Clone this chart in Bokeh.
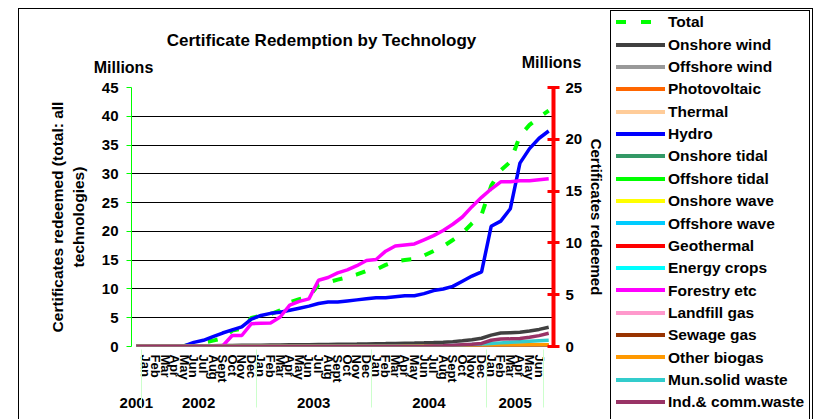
from bokeh.plotting import figure
from bokeh.layouts import row
from bokeh.models import (FactorRange, Range1d, LinearAxis, Label, SingleIntervalTicker, Div)
from bokeh.embed import file_html
from bokeh.resources import INLINE
import html

FONT = "Liberation Sans"

# ---------------- data ----------------
months = ["Jan", "Feb", "Mar", "Apr", "May", "Jun", "Jul", "Aug", "Sept", "Oct", "Nov", "Dec"]
years = ["2001", "2002", "2003", "2004", "2005", " "]
factors = ([("2001", " ")]
           + [(y, m) for y in ["2002", "2003", "2004"] for m in months]
           + [("2005", m) for m in months[:6]]
           + [(" ", " ")])

total = [0, 0.01, 0.02, 0.03, 0.06, 0.1, 0.46, 0.67, 1.03, 1.44, 2.76, 3.07, 4.97,
         5.38, 5.61, 6.3, 7.66, 8.22, 8.68, 10.74, 11.15, 11.61, 12.01, 12.52, 13.15,
         13.37, 14.18, 14.8, 15.04, 15.2, 15.8, 16.6, 17.4, 18.5, 19.7, 21.4, 22.9,
         27.9, 30.6, 32.1, 36.6, 38.5, 39.8, 41.0]

zeros = [0] * 44

onshore_wind = [0, 0.01, 0.02, 0.03, 0.04, 0.05, 0.06, 0.07, 0.08, 0.09, 0.1, 0.11, 0.12,
                0.13, 0.14, 0.15, 0.16, 0.17, 0.18, 0.19, 0.2, 0.21, 0.22, 0.23, 0.25,
                0.27, 0.28, 0.3, 0.32, 0.33, 0.35, 0.38, 0.42, 0.47, 0.55, 0.65, 0.8,
                1.1, 1.3, 1.33, 1.38, 1.5, 1.65, 1.85]
offshore_wind = [0] * 25 + [0, 0, 0, 0, 0, 0, 0.01, 0.02, 0.03, 0.04, 0.05, 0.06,
                            0.07, 0.08, 0.1, 0.12, 0.14, 0.16, 0.18]
photovoltaic = list(zeros)
thermal = list(zeros)
hydro = [0, 0, 0, 0, 0.02, 0.05, 0.4, 0.6, 0.95, 1.3, 1.6, 1.9, 2.65,
         3.0, 3.2, 3.3, 3.5, 3.7, 3.9, 4.15, 4.3, 4.3, 4.4, 4.5, 4.6,
         4.7, 4.7, 4.8, 4.9, 4.9, 5.1, 5.4, 5.55, 5.8, 6.3, 6.8, 7.2,
         11.6, 12.1, 13.3, 17.7, 19.1, 20.1, 20.8]
onshore_tidal = list(zeros)
offshore_tidal = list(zeros)
onshore_wave = list(zeros)
offshore_wave = list(zeros)
geothermal = list(zeros)
energy_crops = list(zeros)
forestry = [0, 0, 0, 0, 0, 0, 0, 0, 0, 0.05, 1.06, 1.06, 2.2,
            2.25, 2.27, 2.85, 4.0, 4.35, 4.6, 6.4, 6.66, 7.1, 7.4, 7.8, 8.3,
            8.4, 9.2, 9.7, 9.8, 9.9, 10.3, 10.7, 11.2, 11.8, 12.5, 13.5, 14.4,
            15.2, 15.9, 15.9, 16.0, 16.0, 16.1, 16.2]
landfill_gas = list(zeros)
sewage_gas = list(zeros)
other_biogas = [0] * 28 + [0.02, 0.03, 0.04, 0.05, 0.06, 0.07, 0.08, 0.1, 0.12,
                           0.13, 0.14, 0.15, 0.15, 0.16, 0.17, 0.18]
mun_solid_waste = [0] * 31 + [0.02, 0.05, 0.1, 0.15, 0.2, 0.25,
                              0.3, 0.35, 0.4, 0.45, 0.5, 0.55, 0.6]
ind_comm_waste = [0] * 30 + [0.02, 0.05, 0.08, 0.12, 0.17, 0.22, 0.3,
                             0.6, 0.72, 0.74, 0.78, 0.9, 1.05, 1.28]

series = [
    ("Onshore wind", onshore_wind, "#404040"),
    ("Offshore wind", offshore_wind, "#999999"),
    ("Photovoltaic", photovoltaic, "#FF6600"),
    ("Thermal", thermal, "#FFCC99"),
    ("Hydro", hydro, "#0000FF"),
    ("Onshore tidal", onshore_tidal, "#339966"),
    ("Offshore tidal", offshore_tidal, "#00FF00"),
    ("Onshore wave", onshore_wave, "#FFFF00"),
    ("Offshore wave", offshore_wave, "#00CCFF"),
    ("Geothermal", geothermal, "#FF0000"),
    ("Energy crops", energy_crops, "#00FFFF"),
    ("Forestry etc", forestry, "#FF00FF"),
    ("Landfill gas", landfill_gas, "#FF99CC"),
    ("Sewage gas", sewage_gas, "#993300"),
    ("Other biogas", other_biogas, "#FF9900"),
    ("Mun.solid waste", mun_solid_waste, "#33CCCC"),
    ("Ind.& comm.waste", ind_comm_waste, "#993366"),
]

TOTAL_COLOR = "#00FF00"
TOTAL_DASH = "10 14"

# ---------------- main figure ----------------
p = figure(
    x_range=FactorRange(*factors, factor_padding=0, group_padding=0, subgroup_padding=0,
                        range_padding=0),
    y_range=Range1d(0, 45),
    frame_width=422, frame_height=259,
    min_border_left=131, min_border_top=87, min_border_bottom=73, min_border_right=57,
    output_backend="svg", toolbar_location=None,
)
p.extra_y_ranges = {"right": Range1d(0, 25)}
p.outline_line_color = None
p.background_fill_color = "white"
p.border_fill_color = "white"

# left axis
yl = p.yaxis[0]
tick5 = SingleIntervalTicker(interval=5)
yl.ticker = tick5
p.ygrid.ticker = tick5
p.ygrid.grid_line_color = "black"
p.ygrid.grid_line_width = 1
p.xgrid.visible = False
yl.axis_line_color = "#00FF00"
yl.axis_line_width = 1
yl.major_tick_line_color = "#00FF00"
yl.major_tick_out = 5
yl.major_tick_in = 0
yl.minor_tick_line_color = None
yl.major_label_text_font = FONT
yl.major_label_text_font_style = "bold"
yl.major_label_text_font_size = "15px"
yl.major_label_text_color = "black"
yl.major_label_standoff = 8
yl.axis_label = "Certificates redeemed (total: all\ntechnologies)"
yl.axis_label_text_font = FONT
yl.axis_label_text_font_style = "bold"
yl.axis_label_text_font_size = "15.5px"
yl.axis_label_text_color = "black"
yl.axis_label_standoff = 12

# right axis
yr = LinearAxis(y_range_name="right", ticker=SingleIntervalTicker(interval=5))
yr.axis_line_color = "#FF0000"
yr.axis_line_width = 4
yr.major_tick_line_color = "#FF0000"
yr.major_tick_line_width = 3
yr.major_tick_out = 6
yr.major_tick_in = 6
yr.minor_tick_line_color = None
yr.major_label_text_font = FONT
yr.major_label_text_font_style = "bold"
yr.major_label_text_font_size = "15px"
yr.major_label_text_color = "black"
yr.major_label_standoff = 6
yr.axis_label = "Certificates redeemed"
yr.axis_label_text_font = FONT
yr.axis_label_text_font_style = "bold"
yr.axis_label_text_font_size = "15px"
yr.axis_label_text_color = "black"
yr.axis_label_standoff = 3
p.add_layout(yr, "right")

# x axis
xa = p.xaxis[0]
xa.axis_line_color = None
xa.major_tick_line_color = None
xa.major_tick_out = 0
xa.major_label_orientation = "vertical"
xa.major_label_text_font = FONT
xa.major_label_text_font_style = "bold"
xa.major_label_text_font_size = "13px"
xa.major_label_text_color = "black"
xa.major_label_standoff = 8
xa.group_text_font = FONT
xa.group_text_font_style = "bold"
xa.group_text_font_size = "15px"
xa.group_text_color = "black"
xa.separator_line_color = "#CCFFCC"
xa.separator_line_width = 1

# lines
p.line(factors, total, line_color=TOTAL_COLOR, line_width=4, line_dash=TOTAL_DASH)
for name, vals, col in series:
    p.line(factors, vals, line_color=col, line_width=3.5, y_range_name="right")

# texts above the frame (each in its own stacked panel)
def lab(text, x, y, size):
    p.add_layout(Label(x=x, y=y, x_units="screen", y_units="screen", text=text,
                       text_font=FONT, text_font_style="bold", text_font_size=size,
                       text_align="center", text_baseline="middle", text_color="black"),
                 "above")

lab("Millions", -8, 20, "16px")
lab("Millions", 420, 8, "16px")
lab("Certificate Redemption by Technology", 190, 13, "17px")

# ---------------- legend (HTML box beside the plot) ----------------
def legend_row(label, swatch_css):
    return ('<div style="display:flex;align-items:center;height:22.35px;white-space:nowrap;">'
            f'<span style="display:inline-block;flex:none;width:49px;height:4px;margin-left:5px;'
            f'margin-right:3px;{swatch_css}"></span>{html.escape(label)}</div>')

rows_html = [legend_row("Total",
                        f"background:repeating-linear-gradient(to right,{TOTAL_COLOR} 0px,"
                        f"{TOTAL_COLOR} 10px,transparent 10px,transparent 25px);")]
for name, vals, col in series:
    rows_html.append(legend_row(name, f"background:{col};"))

legend_html = (
    '<div style="position:relative;width:204px;height:419px;margin:0;padding:0;">'
    '<div style="position:absolute;left:-592px;top:8px;width:795px;height:420px;'
    'border-left:1px solid black;border-top:1px solid black;border-right:1px solid black;'
    'pointer-events:none;"></div>'
    f'<div style="position:absolute;left:0px;top:10px;width:200px;height:420px;'
    f'border:1px solid black;background:white;font-family:\'{FONT}\';font-weight:bold;'
    f'font-size:15.5px;line-height:1;color:black;padding:0;margin:0;overflow:hidden;">'
    + "".join(rows_html) +
    '</div></div>'
)
legend_div = Div(text=legend_html, width=204, height=419, margin=0,
                 styles={"overflow": "visible", "padding": "0", "margin": "0"})

layout = row(p, legend_div, spacing=0)
open("out.html", "w").write(file_html(layout, INLINE))
